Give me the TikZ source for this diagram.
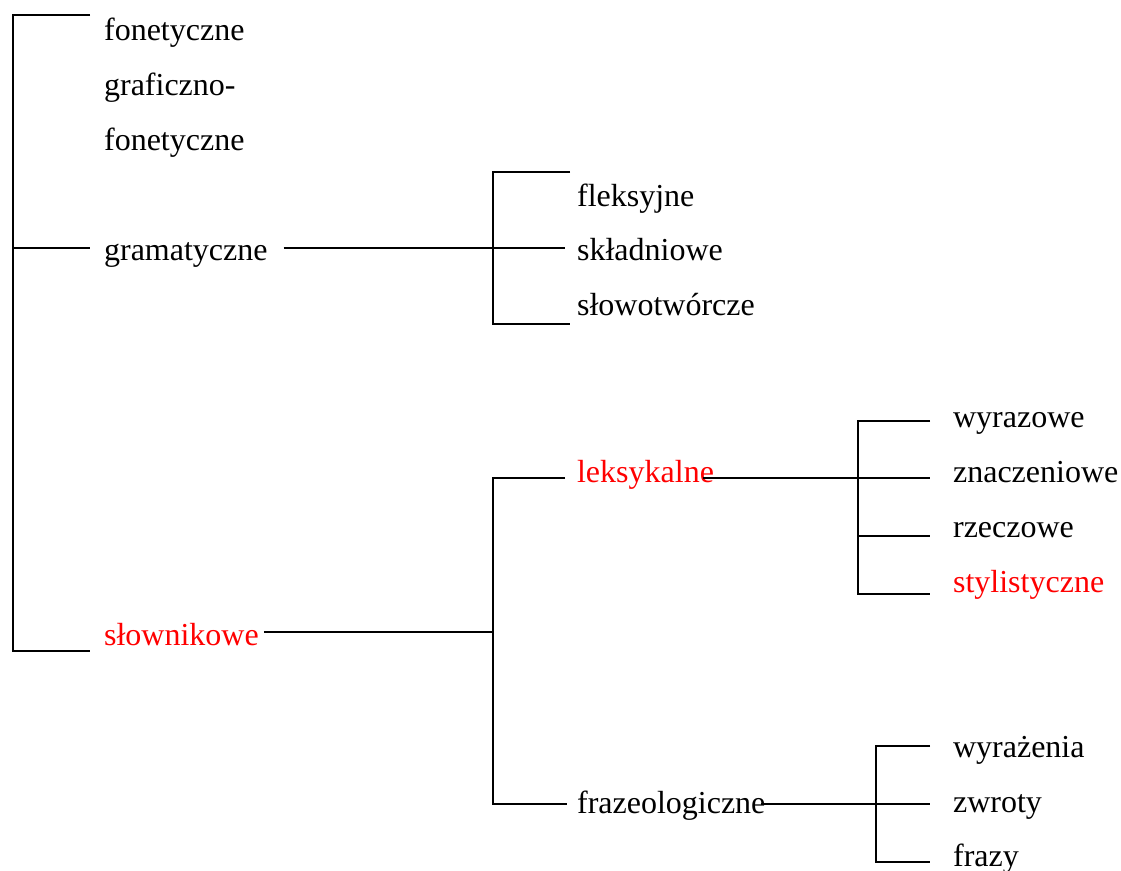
\documentclass[tikz,border=0pt]{standalone}
\usepackage{fontspec}
\setmainfont{Liberation Serif}
\begin{document}
\begin{tikzpicture}[x=0.5pt,y=-0.5pt,line width=1.1pt,
    lbl/.style={anchor=base west,inner sep=0pt,font=\fontsize{16}{19}\selectfont},
    hot/.style={lbl,text=red}]
    \useasboundingbox (0,0) rectangle (1121,871);
    % first level
    \node[lbl] (fon) at (103,41) {fonetyczne};
    \node[lbl] (graf) at (103,96) {graficzno-};
    \node[lbl] (graffon) at (103,151) {fonetyczne};
    \node[lbl] (gram) at (103,261) {gramatyczne};
    \node[hot] (slow) at (103,646) {słownikowe};
    \coordinate (r1) at (13,15);
    \coordinate (r2) at (13,248);
    \coordinate (r3) at (13,651);
    \draw (r1) ++(77,0) -- (r1) -- (r3) -- ++(77,0);
    \draw (r2) -- ++(77,0);
    % gramatyczne
    \node[lbl] (flek) at (576,207) {fleksyjne};
    \node[lbl] (skla) at (576,261) {składniowe};
    \node[lbl] (slowo) at (576,316) {słowotwórcze};
    \coordinate (g1) at (493,172);
    \coordinate (g2) at (493,248);
    \coordinate (g3) at (493,324);
    \draw (g1) ++(77,0) -- (g1) -- (g3) -- ++(77,0);
    \draw (gram.east|-g2) ++(15,0) -- (g2) -- ++(72,0);
    % slownikowe
    \node[hot] (leks) at (576,483) {leksykalne};
    \node[lbl] (fraz) at (576,814) {frazeologiczne};
    \coordinate (s1) at (493,478);
    \coordinate (s2) at (493,632);
    \coordinate (s3) at (493,804);
    \draw (slow.east|-s2) ++(4,0) -- (s2);
    \draw (s1) ++(72,0) -- (s1) -- (s3) -- ++(74,0);
    % leksykalne
    \node[lbl] (wyr) at (952,428) {wyrazowe};
    \node[lbl] (znacz) at (952,483) {znaczeniowe};
    \node[lbl] (rzecz) at (952,538) {rzeczowe};
    \node[hot] (styl) at (952,593) {stylistyczne};
    \coordinate (l1) at (858,421);
    \coordinate (l2) at (858,478);
    \coordinate (l3) at (858,536);
    \coordinate (l4) at (858,594);
    \draw (l1) ++(72,0) -- (l1) -- (l4) -- ++(72,0);
    \draw (leks.east|-l2) ++(-12,0) -- (l2) -- ++(72,0);
    \draw (l3) -- ++(72,0);
    % frazeologiczne
    \node[lbl] (wyraz) at (952,758) {wyrażenia};
    \node[lbl] (zwr) at (952,813) {zwroty};
    \node[lbl] (frazy) at (952,867) {frazy};
    \coordinate (f1) at (876,746);
    \coordinate (f2) at (876,804);
    \coordinate (f3) at (876,862);
    \draw (f1) ++(54,0) -- (f1) -- (f3) -- ++(54,0);
    \draw (fraz.east|-f2) ++(-6,0) -- (f2) -- ++(54,0);
\end{tikzpicture}
\end{document}
